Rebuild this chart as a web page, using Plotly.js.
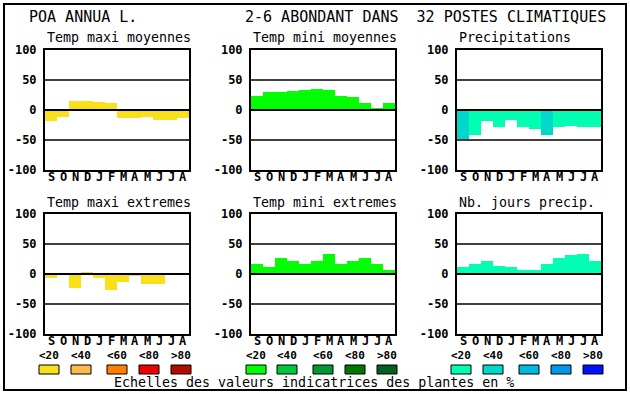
<!DOCTYPE html>
<html>
<head>
<meta charset="utf-8">
<script src="https://cdn.plot.ly/plotly-3.0.1.min.js"></script>
<style>html,body{margin:0;padding:0;background:#fff;}#chart{width:630px;height:394px;}</style>
</head>
<body>
<div id="chart"></div>
<script>
// ---- data ----
const months = ['S','O','N','D','J','F','M','A','M','J','J','A'];
const yTicks = [-100, -50, 0, 50, 100];
const yTickText = ['-100', '-50', '0', '50', '100'];

const panelTitles = ['Temp maxi moyennes', 'Temp mini moyennes', 'Precipitations',
                     'Temp maxi extremes', 'Temp mini extremes', 'Nb. jours precip.'];

const tempMaxiMoy   = [-18, -11, 15, 15, 14, 12, -13, -13, -12, -16, -16, -14];
const tempMiniMoy   = [23, 30, 30, 32, 33, 35, 33, 23, 22, 12, 3, 12];
const precip        = [-48, -41, -18, -28, -17, -28, -31, -41, -28, -26, -28, -28];
const tempMaxiExt   = [-7, -2, -24, 4, -7, -27, -14, -4, -16, -17, 0, -2];
const tempMiniExt   = [16, 12, 27, 22, 16, 22, 34, 16, 22, 26, 17, 7];
const nbJoursPrecip = [11, 17, 22, 14, 11, 7, 7, 17, 27, 31, 34, 22];

// indicator class (0:<20, 1:<40, 2:<60, 3:<80, 4:>80) per bar
const classMaxiMoy = [0,0,0,0,0,0,0,0,0,0,0,0];
const classMiniMoy = [0,0,0,0,0,0,0,0,0,0,0,0];
const classPrecip  = [1,0,0,0,0,0,0,1,0,0,0,0];
const classMaxiExt = [0,0,0,0,0,0,0,0,0,0,0,0];
const classMiniExt = [0,0,0,0,0,0,0,0,0,0,0,0];
const classJours   = [0,0,0,0,0,0,0,0,0,0,0,0];

const legendLabels = ['<20', '<40', '<60', '<80', '>80'];
const warmScale  = ['#f8e01a', '#ffb94f', '#ff8000', '#ee0000', '#b00c00'];
const greenScale = ['#00ff00', '#00c83c', '#009830', '#007800', '#006020'];
const blueScale  = ['#00ffb2', '#00d8cc', '#00b8e0', '#0098e8', '#0010ff'];

const mainTitleLeft  = 'POA ANNUA L.';
const mainTitleRight = '2-6 ABONDANT DANS  32 POSTES CLIMATIQUES';
const footer = 'Echelles des valeurs indicatrices des plantes en %';

// ---- layout helpers ----
const W = 630, H = 394;
const px = x => x / W;
const py = y => 1 - y / H;
const FONT = 'DejaVu Sans Mono, Liberation Mono, monospace';

const colLeft = [45, 251, 457];
const rowTop = [50, 214];
const PW = 144, PH = 120;

const panels = [
  {vals: tempMaxiMoy,   cls: classMaxiMoy, scale: warmScale},
  {vals: tempMiniMoy,   cls: classMiniMoy, scale: greenScale},
  {vals: precip,        cls: classPrecip,  scale: blueScale},
  {vals: tempMaxiExt,   cls: classMaxiExt, scale: warmScale},
  {vals: tempMiniExt,   cls: classMiniExt, scale: greenScale},
  {vals: nbJoursPrecip, cls: classJours,   scale: blueScale}
];

const data = [];
const layout = {
  width: W, height: H, autosize: false,
  margin: {l: 0, r: 0, t: 0, b: 0, pad: 0},
  paper_bgcolor: '#ffffff', plot_bgcolor: '#ffffff',
  showlegend: false, bargap: 0,
  font: {family: FONT, color: '#000'},
  shapes: [], annotations: []
};

panels.forEach((p, i) => {
  const n = i + 1;
  const col = i % 3, row = Math.floor(i / 3);
  const L = colLeft[col], T = rowTop[row];
  const xa = 'xaxis' + n, ya = 'yaxis' + n;
  data.push({
    type: 'bar',
    x: months.map((m, k) => k),
    y: p.vals,
    width: 1,
    marker: {color: p.cls.map(c => p.scale[c]), line: {width: 0}},
    xaxis: 'x' + n, yaxis: 'y' + n,
    hoverinfo: 'skip'
  });
  layout[xa] = {
    domain: [px(L), px(L + PW)], anchor: 'y' + n,
    range: [-0.5, 11.5],
    showticklabels: false, ticks: '',
    showgrid: false, zeroline: false,
    showline: true, mirror: true, linecolor: '#000', linewidth: 2,
    fixedrange: true
  };
  layout[ya] = {
    domain: [py(T + PH), py(T)], anchor: 'x' + n,
    range: [-100, 100], tickmode: 'array',
    tickvals: yTicks, ticktext: yTickText,
    tickfont: {family: FONT, size: 12, color: '#000', weight: 'bold'},
    ticks: '', ticklabelstandoff: 4,
    showgrid: false, zeroline: false,
    showline: true, mirror: true, linecolor: '#000', linewidth: 2,
    fixedrange: true
  };
  [50, 0, -50].forEach(v => {
    layout.shapes.push({
      type: 'line', layer: 'above',
      xref: 'x' + n + ' domain', x0: 0, x1: 1,
      yref: 'y' + n, y0: v, y1: v,
      line: {color: '#000', width: v === 0 ? 2 : 1.5}
    });
  });
  // month labels placed on the x scale
  months.forEach((m, k) => {
    layout.annotations.push({
      text: m, xref: 'x' + n, x: k, yref: 'paper', y: py(T + PH + 6.5),
      xanchor: 'center', yanchor: 'middle', showarrow: false,
      font: {family: FONT, size: 12, color: '#000', weight: 'bold'}
    });
  });
  layout.annotations.push({
    text: panelTitles[i], xref: 'paper', yref: 'paper',
    x: px(L), y: py(T - 12), xanchor: 'left', yanchor: 'middle',
    showarrow: false, font: {family: FONT, size: 13.3, color: '#000'}
  });
});

// outer frame
layout.shapes.push({
  type: 'rect', xref: 'paper', yref: 'paper',
  x0: px(4), x1: px(626), y0: py(390), y1: py(4),
  line: {color: '#000', width: 2}, fillcolor: 'rgba(0,0,0,0)', layer: 'above'
});

// main titles
layout.annotations.push({
  text: mainTitleLeft, xref: 'paper', yref: 'paper', x: px(27), y: py(17),
  xanchor: 'left', yanchor: 'middle', showarrow: false,
  font: {family: FONT, size: 15, color: '#000'}
});
layout.annotations.push({
  text: mainTitleRight.replace(/ /g, '&nbsp;'), xref: 'paper', yref: 'paper', x: px(243), y: py(17),
  xanchor: 'left', yanchor: 'middle', showarrow: false,
  font: {family: FONT, size: 15, color: '#000'}
});

// legend scales
const swatchLefts = [[39, 71, 107, 139, 171], [246, 277, 313, 345, 377], [451, 483, 519, 551, 583]];
const scales = [warmScale, greenScale, blueScale];
scales.forEach((sc, g) => {
  sc.forEach((c, k) => {
    const x0 = swatchLefts[g][k];
    layout.shapes.push({
      type: 'rect', xref: 'paper', yref: 'paper',
      x0: px(x0), x1: px(x0 + 20), y0: py(374), y1: py(365),
      fillcolor: c, line: {color: '#000', width: 1}
    });
    layout.annotations.push({
      text: legendLabels[k], xref: 'paper', yref: 'paper',
      x: px(x0 + 10), y: py(355), xanchor: 'center', yanchor: 'middle',
      showarrow: false, font: {family: FONT, size: 11, color: '#000', weight: 'bold'}
    });
  });
});

layout.annotations.push({
  text: footer, xref: 'paper', yref: 'paper', x: px(314), y: py(382),
  xanchor: 'center', yanchor: 'middle', showarrow: false,
  font: {family: FONT, size: 13.3, color: '#000'}
});

Plotly.newPlot('chart', data, layout, {staticPlot: true, displayModeBar: false});
</script>
</body>
</html>
